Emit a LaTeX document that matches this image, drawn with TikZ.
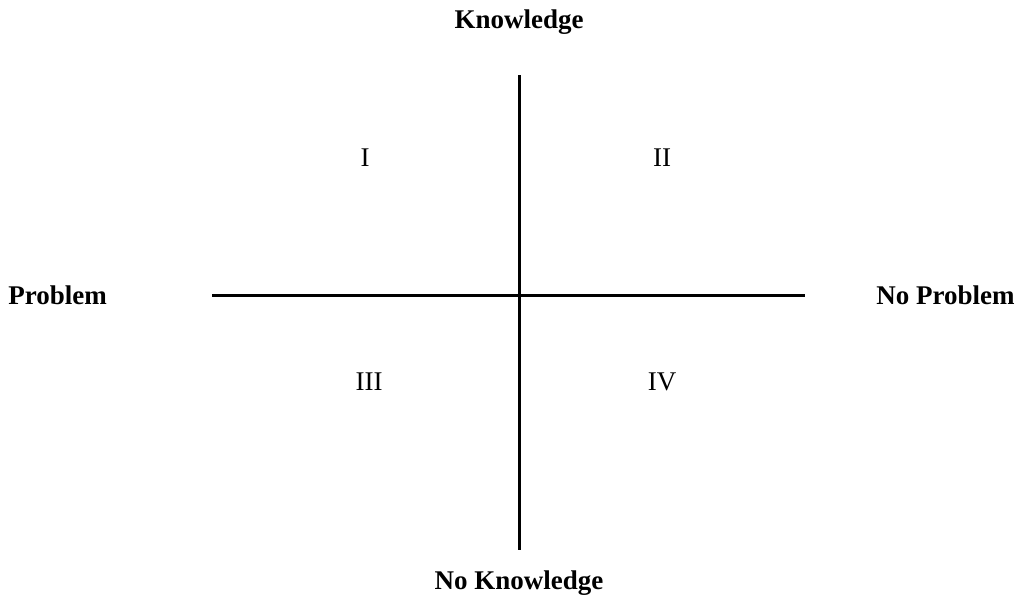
\documentclass[tikz,border=0pt]{standalone}
\usepackage{fontspec}
\setmainfont{Liberation Serif}
\usetikzlibrary{positioning}

\begin{document}
\begin{tikzpicture}[
 x=0.5pt,y=-0.5pt,
 axislabel/.style={font=\fontsize{13.5}{16}\selectfont\bfseries,inner sep=0pt},
 quad/.style={font=\fontsize{13.5}{16}\selectfont,inner sep=0pt},
 axis/.style={line width=1.5pt,black}]
 \useasboundingbox (0,0) rectangle (1020,600);
 % axes
 \coordinate (top) at (519,75);
 \coordinate (bottom) at (519,550);
 \coordinate (left) at (212,295);
 \coordinate (right) at (805,295);
 \draw[axis] (top) -- (bottom);
 \draw[axis] (left) -- (right);
 % axis labels
 \node[axislabel] (know) at (519,22) {Knowledge};
 \node[axislabel] (noknow) at (519,583) {No Knowledge};
 \node[axislabel,anchor=west] (prob) at (8,295) {Problem};
 \node[axislabel,anchor=east] (noprob) at (1015,295) {No Problem};
 % quadrants
 \node[quad] (q1) at (365,158) {I};
 \node[quad] (q2) at (662,158) {II};
 \node[quad] (q3) at (369,382) {III};
 \node[quad] (q4) at (662,382) {IV};
\end{tikzpicture}
\end{document}
